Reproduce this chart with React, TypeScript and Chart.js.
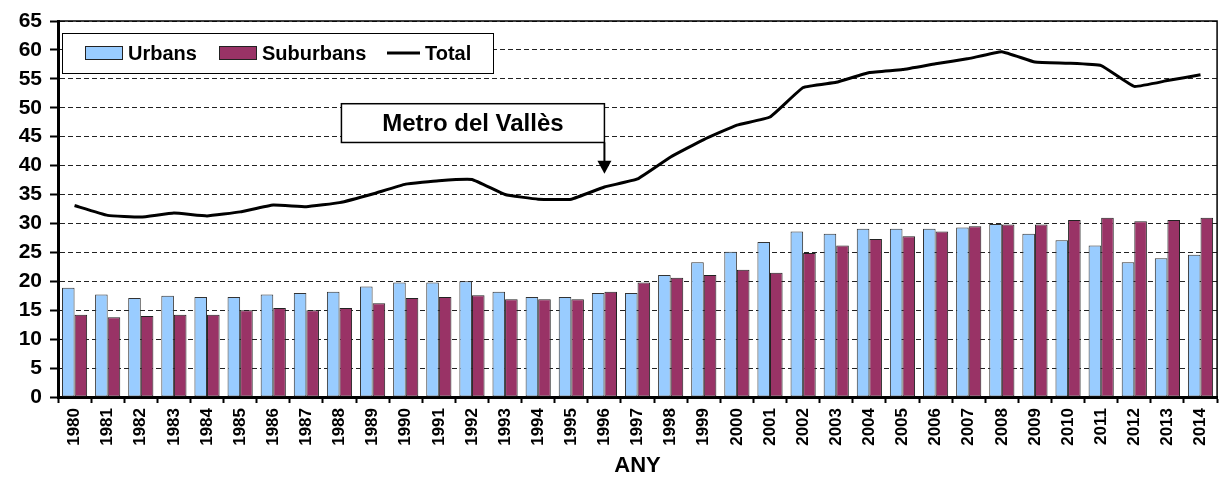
import React, { useEffect, useRef } from 'react';
import { Chart, registerables } from 'chart.js';

Chart.register(...registerables);

const YEARS = [
  '1980', '1981', '1982', '1983', '1984', '1985', '1986', '1987', '1988', '1989',
  '1990', '1991', '1992', '1993', '1994', '1995', '1996', '1997', '1998', '1999',
  '2000', '2001', '2002', '2003', '2004', '2005', '2006', '2007', '2008', '2009',
  '2010', '2011', '2012', '2013', '2014',
];

const URBANS = [
  18.9, 17.7, 17.1, 17.5, 17.3, 17.3, 17.7, 18.0, 18.2, 19.1,
  19.8, 19.8, 20.0, 18.2, 17.3, 17.3, 18.0, 18.0, 21.1, 23.3,
  25.1, 26.8, 28.6, 28.2, 29.1, 29.1, 29.1, 29.3, 29.9, 28.2,
  27.1, 26.2, 23.3, 24.0, 24.6,
];

const SUBURBANS = [
  14.2, 13.8, 14.0, 14.2, 14.2, 15.0, 15.4, 15.0, 15.4, 16.2,
  17.1, 17.3, 17.6, 16.9, 16.9, 16.9, 18.2, 19.8, 20.6, 21.1,
  22.0, 21.5, 24.9, 26.2, 27.3, 27.8, 28.6, 29.5, 29.8, 29.8,
  30.6, 31.0, 30.4, 30.6, 31.0,
];

const TOTAL = [
  33.1, 31.4, 31.1, 31.8, 31.3, 32.0, 33.2, 32.9, 33.6, 35.1,
  36.8, 37.4, 37.6, 35.0, 34.2, 34.2, 36.3, 37.7, 41.5, 44.5,
  47.0, 48.4, 53.5, 54.4, 56.1, 56.6, 57.6, 58.5, 59.7, 57.9,
  57.7, 57.3, 53.7, 54.7, 55.7,
];

const SERIES_LABELS = ['Urbans', 'Suburbans', 'Total'];
const Y_MIN = 0;
const Y_MAX = 65;
const Y_STEP = 5;
const X_TITLE = 'ANY';

const ANNOTATION_TEXT = 'Metro del Vallès';
const ANNOTATION_YEAR = '1996';
const ANNOTATION_BOX_TOP = 50.7;
const ANNOTATION_BOX_BOTTOM = 44.0;
const ANNOTATION_ARROW_TIP = 38.6;

const URBAN_COLOR = '#99CCFF';
const SUBURBAN_COLOR = '#993366';
const FONT = 'Arial, "Liberation Sans", sans-serif';

const frameAndLegendPlugin = {
  id: 'frameAndLegend',
  afterDraw(chart: any) {
    const { ctx, chartArea } = chart;
    const xs = chart.scales.x;
    const ys = chart.scales.y;
    ctx.save();

    // top & right frame
    ctx.strokeStyle = '#000';
    ctx.lineWidth = 1.5;
    ctx.setLineDash([]);
    ctx.beginPath();
    ctx.moveTo(chartArea.left, chartArea.top);
    ctx.lineTo(chartArea.right, chartArea.top);
    ctx.lineTo(chartArea.right, chartArea.bottom);
    ctx.stroke();

    // annotation
    const ax = xs.getPixelForValue(YEARS.indexOf(ANNOTATION_YEAR));
    const bTop = ys.getPixelForValue(ANNOTATION_BOX_TOP);
    const bBot = ys.getPixelForValue(ANNOTATION_BOX_BOTTOM);
    const tip = ys.getPixelForValue(ANNOTATION_ARROW_TIP);
    const bLeft = ax - 263;
    ctx.fillStyle = '#fff';
    ctx.fillRect(bLeft, bTop, ax - bLeft, bBot - bTop);
    ctx.lineWidth = 1.5;
    ctx.strokeStyle = '#000';
    ctx.strokeRect(bLeft, bTop, ax - bLeft, bBot - bTop);
    ctx.fillStyle = '#000';
    ctx.font = `bold 24px ${FONT}`;
    ctx.textAlign = 'center';
    ctx.textBaseline = 'middle';
    ctx.fillText(ANNOTATION_TEXT, (bLeft + ax) / 2, (bTop + bBot) / 2 + 1);
    ctx.lineWidth = 2;
    ctx.beginPath();
    ctx.moveTo(ax, bBot);
    ctx.lineTo(ax, tip - 10);
    ctx.stroke();
    ctx.beginPath();
    ctx.moveTo(ax - 7, tip - 13);
    ctx.lineTo(ax + 7, tip - 13);
    ctx.lineTo(ax, tip);
    ctx.closePath();
    ctx.fill();

    // legend
    const lx = chartArea.left + 4;
    const ly = chartArea.top + 12;
    const lw = 431;
    const lh = 40;
    ctx.fillStyle = '#fff';
    ctx.fillRect(lx, ly, lw, lh);
    ctx.lineWidth = 1;
    ctx.strokeStyle = '#000';
    ctx.strokeRect(lx + 0.5, ly + 0.5, lw, lh);

    const datasets = chart.data.datasets;
    const entryX = [lx + 23, lx + 157, lx + 325];
    const cy = ly + lh / 2;
    ctx.font = `bold 20px ${FONT}`;
    ctx.textAlign = 'left';
    ctx.textBaseline = 'middle';
    datasets.forEach((ds: any, i: number) => {
      const ex = entryX[i];
      if (ds.type === 'line') {
        ctx.strokeStyle = ds.borderColor;
        ctx.lineWidth = 3;
        ctx.beginPath();
        ctx.moveTo(ex, cy);
        ctx.lineTo(ex + 33, cy);
        ctx.stroke();
        ctx.fillStyle = '#000';
        ctx.fillText(ds.label, ex + 38, cy + 1);
      } else {
        ctx.fillStyle = ds.backgroundColor;
        ctx.fillRect(ex, cy - 7, 38, 14);
        ctx.strokeStyle = '#222';
        ctx.lineWidth = 1;
        ctx.strokeRect(ex + 0.5, cy - 6.5, 37, 13);
        ctx.fillStyle = '#000';
        ctx.fillText(ds.label, ex + 43, cy + 1);
      }
    });
    ctx.restore();
  },
};

export default function App() {
  const canvasRef = useRef<HTMLCanvasElement | null>(null);

  useEffect(() => {
    document.body.style.margin = '0';
    const canvas = canvasRef.current;
    if (!canvas) return;
    const chart = new Chart(canvas, {
      type: 'bar',
      data: {
        labels: YEARS,
        datasets: [
          {
            type: 'bar',
            label: SERIES_LABELS[0],
            data: URBANS,
            backgroundColor: URBAN_COLOR,
            borderColor: '#333',
            borderWidth: 1,
            borderSkipped: false,
            categoryPercentage: 0.76,
            barPercentage: 1.0,
            order: 2,
          } as any,
          {
            type: 'bar',
            label: SERIES_LABELS[1],
            data: SUBURBANS,
            backgroundColor: SUBURBAN_COLOR,
            borderColor: '#222',
            borderWidth: 1,
            borderSkipped: false,
            categoryPercentage: 0.76,
            barPercentage: 1.0,
            order: 2,
          } as any,
          {
            type: 'line',
            label: SERIES_LABELS[2],
            data: TOTAL,
            borderColor: '#000',
            backgroundColor: '#000',
            borderWidth: 3,
            pointRadius: 0,
            tension: 0.1,
            fill: false,
            order: 0,
          } as any,
        ],
      },
      options: {
        responsive: false,
        animation: false,
        layout: { padding: { top: 21, right: 5, left: 0, bottom: 0 } },
        plugins: {
          legend: { display: false },
          tooltip: { enabled: false },
        },
        scales: {
          x: {
            offset: true,
            grid: {
              display: true,
              drawOnChartArea: false,
              drawTicks: true,
              tickLength: 6,
              tickColor: '#000',
              tickWidth: 2,
              offset: true,
            },
            border: { display: true, color: '#000', width: 3 },
            ticks: {
              color: '#000',
              font: { family: FONT, size: 17, weight: 'bold' },
              minRotation: 90,
              maxRotation: 90,
              autoSkip: false,
              padding: 5,
            },
            title: {
              display: true,
              text: X_TITLE,
              color: '#000',
              font: { family: FONT, size: 22, weight: 'bold' },
              padding: { top: 0, bottom: 0 },
            },
            afterFit: (scale: any) => {
              scale.height = 82;
            },
          },
          y: {
            min: Y_MIN,
            max: Y_MAX,
            ticks: {
              stepSize: Y_STEP,
              color: '#000',
              font: { family: FONT, size: 21, weight: 'bold' },
              padding: 8,
            },
            grid: {
              color: '#222',
              lineWidth: 1,
              borderDash: [5, 3],
              tickLength: 8,
              tickColor: '#000',
              tickWidth: 2,
              tickBorderDash: [],
            } as any,
            border: { display: true, color: '#000', width: 3, dash: [5, 3] } as any,
            afterFit: (scale: any) => {
              scale.width = 58;
            },
          },
        },
      } as any,
      plugins: [frameAndLegendPlugin],
    });
    return () => chart.destroy();
  }, []);

  return (
    <div style={{ position: 'absolute', left: 0, top: 0, width: 1226, height: 479, background: '#fff' }}>
      <canvas ref={canvasRef} width={1226} height={479} />
    </div>
  );
}
